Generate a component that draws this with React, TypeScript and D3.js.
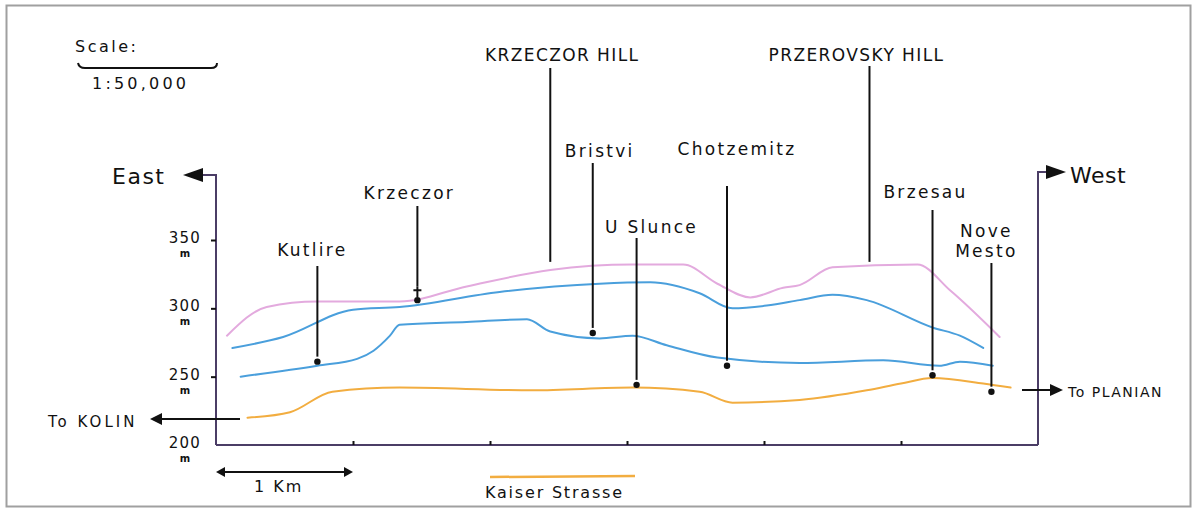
import React, { useEffect, useRef } from 'react';
import * as d3 from 'd3';

// distance along the road in km, elevation in m
const ridgeKm = [0.08, 0.37, 0.74, 1.34, 1.83, 2.44, 3.04, 3.41, 3.66, 3.9, 4.14, 4.26, 4.5, 5.12, 5.36, 5.72];
const ridgeM = [280, 301, 305, 305, 316, 328, 332, 332, 318, 308, 315, 317, 330, 332, 313, 279];

const upperKm = [0.12, 0.49, 1.0, 1.34, 2.07, 2.8, 3.17, 3.53, 3.77, 4.02, 4.26, 4.5, 4.75, 5.23, 5.43, 5.6];
const upperM = [271, 279, 299, 301, 312, 318, 319, 311, 300, 302, 306, 310, 306, 286, 280, 271];

const lowerKm = [0.18, 0.74, 1.03, 1.15, 1.27, 1.34, 1.83, 2.27, 2.44, 2.8, 3.04, 3.29, 3.66, 4.26, 4.87, 5.28, 5.43, 5.67];
const lowerM = [250, 258, 263, 269, 280, 288, 290, 292, 283, 278, 280, 273, 264, 260, 262, 258, 261, 258];

const roadKm = [0.23, 0.54, 0.85, 1.34, 2.31, 3.04, 3.53, 3.77, 4.26, 4.75, 5.0, 5.23, 5.6, 5.8];
const roadM = [220, 224, 239, 242, 240, 242, 239, 231, 233, 240, 245, 249, 245, 242];

const placeNames = ['Kutlire', 'Krzeczor', 'KRZECZOR HILL', 'Bristvi', 'U Slunce', 'Chotzemitz', 'PRZEROVSKY HILL', 'Brzesau', 'Nove Mesto'];
const placeKm = [0.74, 1.47, 2.44, 2.75, 3.07, 3.73, 4.77, 5.23, 5.66];
const placeM = [261, 306, 334, 282, 244, 258, 334, 251, 239];
const placeDot = [true, true, false, true, true, true, false, true, true];

const yTicks = [200, 250, 300, 350];
const xTicks = [1, 2, 3, 4, 5];

// label placement (pixels): dx from leader line, text baseline, top of leader line
const labelLayout = [
  { dx: -5, y: 256, top: 266 },
  { dx: -8, y: 199, top: 206 },
  { dx: 12, y: 61, top: 68 },
  { dx: 7, y: 157, top: 163 },
  { dx: 15, y: 233, top: 238 },
  { dx: 10, y: 155, top: 186 },
  { dx: -13, y: 61, top: 66 },
  { dx: -7, y: 198, top: 210 },
  { dx: -5, y: 237, top: 263 },
];

const FONT = "'DejaVu Sans', sans-serif";
const AXIS = '#4b3d66';

export default function App() {
  const ref = useRef<SVGSVGElement>(null);

  useEffect(() => {
    const svg = d3.select(ref.current);
    svg.selectAll('*').remove();

    const x = d3.scaleLinear().domain([0, 6]).range([216, 1038]);
    const y = d3.scaleLinear().domain([200, 350]).range([445, 240]);

    // frame
    svg.append('rect')
      .attr('x', 6.5).attr('y', 5.5).attr('width', 1184).attr('height', 501)
      .attr('fill', '#fff').attr('stroke', '#a0a0a0').attr('stroke-width', 2);

    const line = d3.line<[number, number]>()
      .x(d => x(d[0]))
      .y(d => y(d[1]))
      .curve(d3.curveMonotoneX);

    const series = [
      { km: ridgeKm, m: ridgeM, color: '#e3aade' },
      { km: upperKm, m: upperM, color: '#4a9fdc' },
      { km: lowerKm, m: lowerM, color: '#4a9fdc' },
      { km: roadKm, m: roadM, color: '#f2ad40' },
    ];
    series.forEach(s => {
      svg.append('path')
        .datum(s.km.map((k, i) => [k, s.m[i]] as [number, number]))
        .attr('d', line)
        .attr('fill', 'none')
        .attr('stroke', s.color)
        .attr('stroke-width', 2)
        .attr('stroke-linecap', 'round');
    });

    // axes
    const g = svg.append('g').attr('stroke', AXIS).attr('stroke-width', 2).attr('fill', 'none');
    g.append('path').attr('d', `M${x(0)},${y(200)}V175H200`);
    g.append('path').attr('d', `M${x(6)},${y(200)}V172H1050`);
    g.append('path').attr('d', `M${x(0)},${y(200)}H${x(6)}`);

    svg.append('path').attr('d', 'M183,175L203,168L203,182Z').attr('fill', '#111');
    svg.append('path').attr('d', 'M1066,172L1046,165L1046,179Z').attr('fill', '#111');

    const yAxis = svg.append('g')
      .attr('transform', `translate(${x(0)},0)`)
      .call(d3.axisLeft(y).tickValues(yTicks.slice(1)).tickSize(5).tickFormat(() => ''));
    yAxis.select('.domain').remove();
    yAxis.selectAll('line').attr('stroke', '#111').attr('stroke-width', 2);

    const xAxis = svg.append('g')
      .attr('transform', `translate(0,${y(200)})`)
      .call(d3.axisBottom(x).tickValues(xTicks).tickSize(-4).tickFormat(() => ''));
    xAxis.select('.domain').remove();
    xAxis.selectAll('line').attr('stroke', '#111').attr('stroke-width', 2);

    yTicks.forEach(t => {
      svg.append('text')
        .attr('x', 201).attr('y', y(t) + 3)
        .attr('text-anchor', 'end')
        .style('font', `15px ${FONT}`)
        .style('letter-spacing', '1.2px')
        .attr('fill', '#111')
        .text(t);
      svg.append('text')
        .attr('x', 185).attr('y', y(t) + 17)
        .attr('text-anchor', 'middle')
        .style('font', `bold 10px ${FONT}`)
        .attr('fill', '#111')
        .text('m');
    });

    // places
    placeNames.forEach((name, i) => {
      const px = x(placeKm[i]);
      const py = y(placeM[i]);
      const lay = labelLayout[i];
      const bottom = placeDot[i] ? py - 5 : py;
      const caps = name === name.toUpperCase();
      svg.append('line')
        .attr('x1', px).attr('x2', px)
        .attr('y1', lay.top).attr('y2', name === 'Krzeczor' ? py - 14 : bottom)
        .attr('stroke', '#111').attr('stroke-width', 2);
      if (placeDot[i]) {
        svg.append('circle').attr('cx', px).attr('cy', py).attr('r', 3.2).attr('fill', '#111');
      }
      if (name === 'Krzeczor') {
        svg.append('path').attr('d', `M${px - 4},${py - 10}H${px + 4}M${px},${py - 14}V${py - 3}`)
          .attr('stroke', '#111').attr('stroke-width', 2);
      }
      const words = name === 'Nove Mesto' ? ['Nove', 'Mesto'] : [name];
      words.forEach((w, j) => {
        svg.append('text')
          .attr('x', px + lay.dx).attr('y', lay.y + j * 20)
          .attr('text-anchor', 'middle')
          .style('font', `17px ${FONT}`)
          .style('letter-spacing', caps ? '1.4px' : '2.3px')
          .attr('fill', '#111')
          .text(w);
      });
    });

    const txt = (tx: number, ty: number, s: string, size: number, anchor = 'start', spacing = '1px') =>
      svg.append('text')
        .attr('x', tx).attr('y', ty)
        .attr('text-anchor', anchor)
        .style('font', `${size}px ${FONT}`)
        .style('letter-spacing', spacing)
        .attr('fill', '#111')
        .text(s);

    txt(112, 184, 'East', 22, 'start', '1.5px');
    txt(1070, 183, 'West', 22, 'start', '0.5px');

    // scale note
    txt(75, 52, 'Scale:', 16, 'start', '2.5px');
    svg.append('path').attr('d', 'M78,63Q79,68 85,68L211,68Q217,68 217,63')
      .attr('fill', 'none').attr('stroke', '#111').attr('stroke-width', 2);
    txt(92, 89, '1:50,000', 16, 'start', '3.2px');

    // road directions
    svg.append('line').attr('x1', 240).attr('x2', 160).attr('y1', 419).attr('y2', 419)
      .attr('stroke', '#111').attr('stroke-width', 2);
    svg.append('path').attr('d', 'M150,419L162,413L162,425Z').attr('fill', '#111');
    txt(48, 427, 'To KOLIN', 15, 'start', '3px');

    svg.append('line').attr('x1', 1022).attr('x2', 1052).attr('y1', 390).attr('y2', 390)
      .attr('stroke', '#111').attr('stroke-width', 2);
    svg.append('path').attr('d', 'M1063,390L1050,384L1050,396Z').attr('fill', '#111');
    txt(1068, 397, 'To PLANIAN', 14, 'start', '1.5px');

    // 1 km bar
    svg.append('line').attr('x1', x(0) + 6).attr('x2', x(1) - 6).attr('y1', 472).attr('y2', 472)
      .attr('stroke', '#111').attr('stroke-width', 2);
    svg.append('path').attr('d', `M${x(0)},472L${x(0) + 9},467L${x(0) + 9},477Z`).attr('fill', '#111');
    svg.append('path').attr('d', `M${x(1)},472L${x(1) - 9},467L${x(1) - 9},477Z`).attr('fill', '#111');
    txt(254, 492, '1 Km', 16, 'start', '2px');

    // legend
    svg.append('line').attr('x1', 490).attr('x2', 635).attr('y1', 477).attr('y2', 476)
      .attr('stroke', '#f2ad40').attr('stroke-width', 2.5);
    txt(485, 498, 'Kaiser Strasse', 16, 'start', '1.8px');
  }, []);

  return (
    <div style={{ position: 'absolute', left: 0, top: 0 }}>
      <svg ref={ref} width={1201} height={509} style={{ display: 'block' }} />
    </div>
  );
}
